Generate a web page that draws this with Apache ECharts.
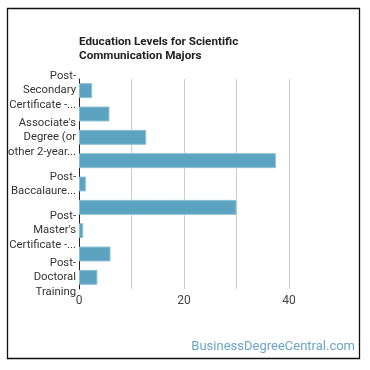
<!DOCTYPE html>
<html>
<head>
<meta charset="utf-8">
<script src="https://cdn.jsdelivr.net/npm/echarts@6/dist/echarts.min.js"></script>
<style>
  html, body { margin: 0; padding: 0; background: #fff; }
  #main { width: 370px; height: 370px; }
</style>
</head>
<body>
<div id="main"></div>
<script>
var categories = [
    "Post-Secondary Certificate - Awarded for training completed after high school",
    "Some College Courses",
    "Associate's Degree (or other 2-year degree)",
    "Bachelor's Degree",
    "Post-Baccalaureate Certificate",
    "Master's Degree",
    "Post-Master's Certificate - awarded for completion of an organized program of study",
    "Doctoral Degree",
    "Post-Doctoral Training"
];
var values = [2.5, 5.8, 12.8, 37.5, 1.3, 30.0, 0.8, 6.0, 3.5];
var xTicks = [0, 10, 20, 30, 40];

// 把长标签按宽度折行，最多三行，放不下就加省略号
var labelFont = '11.3px Roboto';
var ctx = document.createElement('canvas').getContext('2d');
ctx.font = labelFont;
function wrapLabel(text) {
    var maxW = 66, maxLines = 3, dots = '...';
    var tokens = text.match(/[^\s-]*-|[^\s-]+|\s+/g) || [];
    var lines = [], cur = '', i = 0;
    for (; i < tokens.length; i++) {
        var tryLine = cur + tokens[i];
        if (ctx.measureText(tryLine.trim()).width <= maxW) {
            cur = tryLine;
            continue;
        }
        if (cur.trim() === '') {
            // 单个词太长，截断
            var w = tokens[i].trim();
            while (w.length > 1 && ctx.measureText(w + dots).width > maxW) w = w.slice(0, -1);
            lines.push(w + dots);
            return lines.join('\n');
        }
        lines.push(cur.trim());
        cur = '';
        if (lines.length === maxLines) {
            lines[maxLines - 1] = lines[maxLines - 1] + dots;
            return lines.join('\n');
        }
        i--;
    }
    if (cur.trim()) lines.push(cur.trim());
    return lines.join('\n');
}

var myChart = echarts.init(document.getElementById('main'));

option = {
    animation: false,
    title: {
        text: 'Education Levels for Scientific\nCommunication Majors',
        left: 79,
        top: 35,
        padding: 0,
        textStyle: {
            fontFamily: 'Roboto',
            fontSize: 11.7,
            fontWeight: 'bold',
            color: '#222',
            lineHeight: 14
        }
    },
    grid: {
        left: 79,
        right: 81,
        top: 79,
        bottom: 81,
        containLabel: false
    },
    xAxis: {
        type: 'value',
        min: xTicks[0],
        max: xTicks[xTicks.length - 1],
        interval: 10,
        axisLine: { show: false },
        axisTick: { show: false },
        splitLine: { lineStyle: { color: '#cccccc', width: 1 } },
        axisLabel: {
            margin: 6,
            fontFamily: 'Roboto',
            fontSize: 12,
            color: '#444',
            formatter: function (v) { return v % 20 === 0 ? String(v) : ''; }
        }
    },
    yAxis: {
        type: 'category',
        inverse: true,
        data: categories,
        axisLine: { show: true, lineStyle: { color: '#222', width: 1 } },
        axisTick: { show: false },
        axisLabel: {
            interval: 1,
            margin: 3,
            fontFamily: 'Roboto',
            fontSize: 11.3,
            lineHeight: 14.5,
            color: '#333',
            align: 'right',
            formatter: wrapLabel
        }
    },
    series: [
        {
            type: 'bar',
            data: values,
            barWidth: '64%',
            itemStyle: {
                color: '#5ba3c1',
                borderColor: '#8cc0d5',
                borderWidth: 1
            }
        }
    ],
    graphic: [
        {
            type: 'rect',
            shape: { x: 7.5, y: 8.5, width: 352, height: 350 },
            style: { fill: 'none', stroke: '#111', lineWidth: 1.3 },
            silent: true
        },
        {
            type: 'text',
            right: 15,
            top: 340,
            style: {
                text: 'BusinessDegreeCentral.com',
                fill: '#6aa6c8',
                font: '13px Roboto'
            }
        }
    ]
};

myChart.setOption(option);
</script>
</body>
</html>
